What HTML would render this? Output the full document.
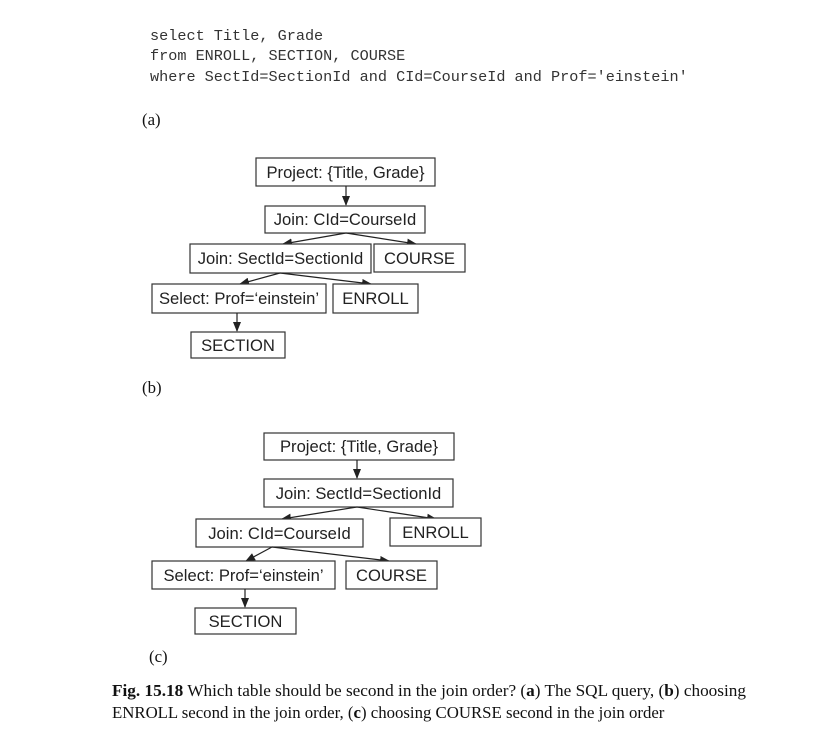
<!DOCTYPE html>
<html><head><meta charset="utf-8"><style>
body{margin:0;background:#fff;}
svg{display:block;}
.m{font-family:"Liberation Mono",monospace;font-size:15.2px;fill:#333;}
.s{font-family:"Liberation Serif",serif;font-size:16.8px;fill:#111;}
.b{font-family:"Liberation Sans",sans-serif;font-size:16.6px;fill:#222;}
rect{fill:#fff;stroke:#333;stroke-width:1.2;}
line{stroke:#222;stroke-width:1.2;marker-end:url(#a);}
</style></head><body>
<svg width="838" height="747" viewBox="0 0 838 747">
<defs><marker id="a" markerWidth="10" markerHeight="8" refX="9" refY="4" orient="auto" markerUnits="userSpaceOnUse"><path d="M0,0 L10,4 L0,8 z" fill="#222"/></marker></defs>
<text class="m" x="150" y="40">select Title, Grade</text>
<text class="m" x="150" y="60">from ENROLL, SECTION, COURSE</text>
<text class="m" x="150" y="81">where SectId=SectionId and CId=CourseId and Prof='einstein'</text>
<text class="s" x="142" y="125">(a)</text>

<rect x="256" y="158" width="179" height="28"/><text class="b" x="345.5" y="178" text-anchor="middle">Project: {Title, Grade}</text>
<line x1="346" y1="186" x2="346" y2="205"/>
<rect x="265" y="206" width="160" height="27"/><text class="b" x="345" y="225" text-anchor="middle">Join: CId=CourseId</text>
<line x1="346" y1="233" x2="283" y2="244"/><line x1="346" y1="233" x2="416" y2="244"/>
<rect x="190" y="244" width="181" height="29"/><text class="b" x="280.5" y="264" text-anchor="middle">Join: SectId=SectionId</text>
<rect x="374" y="244" width="91" height="28"/><text class="b" x="419.5" y="264" text-anchor="middle">COURSE</text>
<line x1="280" y1="273" x2="240" y2="284"/><line x1="280" y1="273" x2="371" y2="284"/>
<rect x="152" y="284" width="174" height="29"/><text class="b" x="239" y="304" text-anchor="middle">Select: Prof=‘einstein’</text>
<rect x="333" y="284" width="85" height="29"/><text class="b" x="375.5" y="304" text-anchor="middle">ENROLL</text>
<line x1="237" y1="313" x2="237" y2="331"/>
<rect x="191" y="332" width="94" height="26"/><text class="b" x="238" y="351" text-anchor="middle">SECTION</text>
<text class="s" x="142" y="393">(b)</text>

<rect x="264" y="433" width="190" height="27"/><text class="b" x="359" y="452" text-anchor="middle">Project: {Title, Grade}</text>
<line x1="357" y1="460" x2="357" y2="478"/>
<rect x="264" y="479" width="189" height="28"/><text class="b" x="358.5" y="499" text-anchor="middle">Join: SectId=SectionId</text>
<line x1="357" y1="507" x2="282" y2="519"/><line x1="357" y1="507" x2="436" y2="519"/>
<rect x="196" y="519" width="167" height="28"/><text class="b" x="279.5" y="539" text-anchor="middle">Join: CId=CourseId</text>
<rect x="390" y="518" width="91" height="28"/><text class="b" x="435.5" y="538" text-anchor="middle">ENROLL</text>
<line x1="272" y1="547" x2="246" y2="561"/><line x1="272" y1="547" x2="389" y2="561"/>
<rect x="152" y="561" width="183" height="28"/><text class="b" x="243.5" y="581" text-anchor="middle">Select: Prof=‘einstein’</text>
<rect x="346" y="561" width="91" height="28"/><text class="b" x="391.5" y="581" text-anchor="middle">COURSE</text>
<line x1="245" y1="589" x2="245" y2="607"/>
<rect x="195" y="608" width="101" height="26"/><text class="b" x="245.5" y="627" text-anchor="middle">SECTION</text>
<text class="s" x="149" y="662">(c)</text>

<text class="s" x="112" y="696" textLength="634" lengthAdjust="spacingAndGlyphs"><tspan font-weight="bold">Fig. 15.18</tspan>  Which table should be second in the join order? (<tspan font-weight="bold">a</tspan>) The SQL query, (<tspan font-weight="bold">b</tspan>) choosing</text>
<text class="s" x="112" y="718">ENROLL second in the join order, (<tspan font-weight="bold">c</tspan>) choosing COURSE second in the join order</text>
</svg>
</body></html>
